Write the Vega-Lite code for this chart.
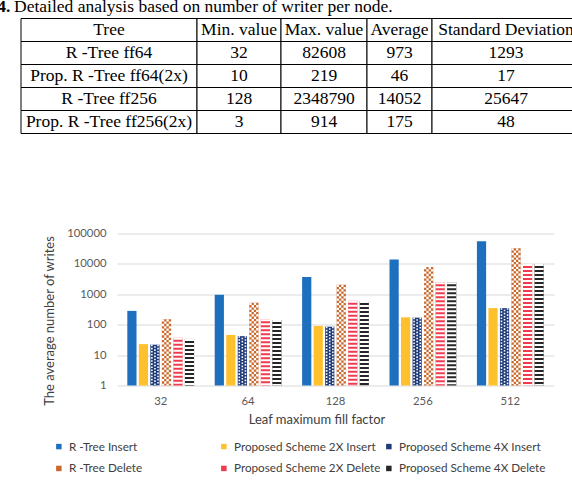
{
  "$schema": "https://vega.github.io/schema/vega-lite/v6.json",
  "padding": {"left": -49, "top": -4.5, "right": 0, "bottom": 0},
  "background": "white",
  "config": {"view": {"stroke": null}},
  "datasets": {
    "cells": [
      {"col": "Tree", "r": 0, "text": "Tree"},
      {"col": "Tree", "r": 1, "text": "R -Tree ff64"},
      {"col": "Tree", "r": 2, "text": "Prop. R -Tree ff64(2x)"},
      {"col": "Tree", "r": 3, "text": "R -Tree ff256"},
      {"col": "Tree", "r": 4, "text": "Prop. R -Tree ff256(2x)"},
      {"col": "Min", "r": 0, "text": "Min. value"},
      {"col": "Min", "r": 1, "text": "32"},
      {"col": "Min", "r": 2, "text": "10"},
      {"col": "Min", "r": 3, "text": "128"},
      {"col": "Min", "r": 4, "text": "3"},
      {"col": "Max", "r": 0, "text": "Max. value"},
      {"col": "Max", "r": 1, "text": "82608"},
      {"col": "Max", "r": 2, "text": "219"},
      {"col": "Max", "r": 3, "text": "2348790"},
      {"col": "Max", "r": 4, "text": "914"},
      {"col": "Avg", "r": 0, "text": "Average"},
      {"col": "Avg", "r": 1, "text": "973"},
      {"col": "Avg", "r": 2, "text": "46"},
      {"col": "Avg", "r": 3, "text": "14052"},
      {"col": "Avg", "r": 4, "text": "175"},
      {"col": "SD", "r": 0, "text": "Standard Deviation"},
      {"col": "SD", "r": 1, "text": "1293"},
      {"col": "SD", "r": 2, "text": "17"},
      {"col": "SD", "r": 3, "text": "25647"},
      {"col": "SD", "r": 4, "text": "48"}
    ],
    "caption": [
      {"r": -1, "label": "Table 4.", "rest": "Detailed analysis based on number of writer per node."}
    ],
    "writes": [
      {"factor": "32", "series": "R -Tree Insert", "writes": 285},
      {"factor": "32", "series": "Proposed Scheme 2X Insert", "writes": 23},
      {"factor": "32", "series": "Proposed Scheme 4X Insert", "writes": 22},
      {"factor": "32", "series": "R -Tree Delete", "writes": 151},
      {"factor": "32", "series": "Proposed Scheme 2X Delete", "writes": 37},
      {"factor": "32", "series": "Proposed Scheme 4X Delete", "writes": 34},
      {"factor": "64", "series": "R -Tree Insert", "writes": 973},
      {"factor": "64", "series": "Proposed Scheme 2X Insert", "writes": 46},
      {"factor": "64", "series": "Proposed Scheme 4X Insert", "writes": 42},
      {"factor": "64", "series": "R -Tree Delete", "writes": 525},
      {"factor": "64", "series": "Proposed Scheme 2X Delete", "writes": 151},
      {"factor": "64", "series": "Proposed Scheme 4X Delete", "writes": 143},
      {"factor": "128", "series": "R -Tree Insert", "writes": 3720},
      {"factor": "128", "series": "Proposed Scheme 2X Insert", "writes": 91},
      {"factor": "128", "series": "Proposed Scheme 4X Insert", "writes": 86},
      {"factor": "128", "series": "R -Tree Delete", "writes": 2080},
      {"factor": "128", "series": "Proposed Scheme 2X Delete", "writes": 610},
      {"factor": "128", "series": "Proposed Scheme 4X Delete", "writes": 600},
      {"factor": "256", "series": "R -Tree Insert", "writes": 14052},
      {"factor": "256", "series": "Proposed Scheme 2X Insert", "writes": 175},
      {"factor": "256", "series": "Proposed Scheme 4X Insert", "writes": 171},
      {"factor": "256", "series": "R -Tree Delete", "writes": 7950},
      {"factor": "256", "series": "Proposed Scheme 2X Delete", "writes": 2470},
      {"factor": "256", "series": "Proposed Scheme 4X Delete", "writes": 2470},
      {"factor": "512", "series": "R -Tree Insert", "writes": 55700},
      {"factor": "512", "series": "Proposed Scheme 2X Insert", "writes": 352},
      {"factor": "512", "series": "Proposed Scheme 4X Insert", "writes": 350},
      {"factor": "512", "series": "R -Tree Delete", "writes": 32700},
      {"factor": "512", "series": "Proposed Scheme 2X Delete", "writes": 10000},
      {"factor": "512", "series": "Proposed Scheme 4X Delete", "writes": 10000}
    ]
  },
  "resolve": {"scale": {"fill": "independent"}, "legend": {"fill": "independent"}},
  "spacing": 93,
  "vconcat": [
    {
      "spacing": 0,
      "bounds": "flush",
      "hconcat": [
        {
          "width": 176, "height": 138,
          "encoding": {"y": {"field": "r", "type": "ordinal", "scale": {"domain": [-1, 0, 1, 2, 3, 4], "paddingInner": 0, "paddingOuter": 0}, "axis": null}},
          "layer": [
            {"data": {"name": "cells"}, "transform": [{"filter": "datum.col === 'Tree'"}], "mark": {"type": "rect", "fill": "white", "stroke": "black", "strokeWidth": 1}},
            {"data": {"name": "cells"}, "transform": [{"filter": "datum.col === 'Tree'"}], "mark": {"type": "text", "font": "Liberation Serif", "fontSize": 17.5, "color": "black"}, "encoding": {"text": {"field": "text"}}},
            {"data": {"name": "caption"}, "mark": {"type": "text", "font": "Liberation Serif", "fontSize": 17.5, "fontWeight": "bold", "color": "black", "align": "right", "baseline": "alphabetic", "dx": -98.5, "dy": 5.3}, "encoding": {"text": {"field": "label"}}},
            {"data": {"name": "caption"}, "mark": {"type": "text", "font": "Liberation Serif", "fontSize": 17.5, "color": "black", "align": "left", "baseline": "alphabetic", "dx": -95, "dy": 5.3}, "encoding": {"text": {"field": "rest"}}}
          ]
        },
        {
          "width": 84, "height": 138,
          "data": {"name": "cells"},
          "transform": [{"filter": "datum.col === 'Min'"}],
          "encoding": {"y": {"field": "r", "type": "ordinal", "scale": {"domain": [-1, 0, 1, 2, 3, 4], "paddingInner": 0, "paddingOuter": 0}, "axis": null}},
          "layer": [
            {"mark": {"type": "rect", "fill": "white", "stroke": "black", "strokeWidth": 1}},
            {"mark": {"type": "text", "font": "Liberation Serif", "fontSize": 17.5, "color": "black"}, "encoding": {"text": {"field": "text"}}}
          ]
        },
        {
          "width": 86, "height": 138,
          "data": {"name": "cells"},
          "transform": [{"filter": "datum.col === 'Max'"}],
          "encoding": {"y": {"field": "r", "type": "ordinal", "scale": {"domain": [-1, 0, 1, 2, 3, 4], "paddingInner": 0, "paddingOuter": 0}, "axis": null}},
          "layer": [
            {"mark": {"type": "rect", "fill": "white", "stroke": "black", "strokeWidth": 1}},
            {"mark": {"type": "text", "font": "Liberation Serif", "fontSize": 17.5, "color": "black"}, "encoding": {"text": {"field": "text"}}}
          ]
        },
        {
          "width": 65, "height": 138,
          "data": {"name": "cells"},
          "transform": [{"filter": "datum.col === 'Avg'"}],
          "encoding": {"y": {"field": "r", "type": "ordinal", "scale": {"domain": [-1, 0, 1, 2, 3, 4], "paddingInner": 0, "paddingOuter": 0}, "axis": null}},
          "layer": [
            {"mark": {"type": "rect", "fill": "white", "stroke": "black", "strokeWidth": 1}},
            {"mark": {"type": "text", "font": "Liberation Serif", "fontSize": 17.5, "color": "black"}, "encoding": {"text": {"field": "text"}}}
          ]
        },
        {
          "width": 148, "height": 138,
          "data": {"name": "cells"},
          "transform": [{"filter": "datum.col === 'SD'"}],
          "encoding": {"y": {"field": "r", "type": "ordinal", "scale": {"domain": [-1, 0, 1, 2, 3, 4], "paddingInner": 0, "paddingOuter": 0}, "axis": null}},
          "layer": [
            {"mark": {"type": "rect", "fill": "white", "stroke": "black", "strokeWidth": 1}},
            {"mark": {"type": "text", "font": "Liberation Serif", "fontSize": 17.5, "color": "black"}, "encoding": {"text": {"field": "text"}}}
          ]
        }
      ]
    },
    {
      "spacing": 0,
      "bounds": "flush",
      "resolve": {"scale": {"fill": "independent"}, "legend": {"fill": "independent"}},
      "hconcat": [
        {"width": 96, "height": 1, "data": {"values": []}, "mark": "point"},
        {
          "width": 437, "height": 152,
          "data": {"name": "writes"},
          "encoding": {
            "x": {
              "field": "factor", "type": "ordinal", "sort": ["32", "64", "128", "256", "512"],
              "scale": {"paddingInner": 0.236, "paddingOuter": 0.118},
              "axis": {
                "labelAngle": 0, "domain": false, "ticks": false, "labelPadding": 10,
                "labelFont": "Lato", "labelFontSize": 11.3, "labelColor": "#595959",
                "title": "Leaf maximum fill factor", "titleFont": "Lato", "titleFontSize": 13,
                "titleFontWeight": "normal", "titleColor": "#404040",
                "titleX": 199.5, "titleY": 34, "titleBaseline": "middle", "titleAlign": "center"
              }
            },
            "y": {
              "field": "writes", "type": "quantitative",
              "scale": {"type": "log", "domain": [1, 100000], "nice": false},
              "axis": {
                "values": [1, 10, 100, 1000, 10000, 100000], "format": "d",
                "grid": true, "gridColor": "#d9d9d9", "gridWidth": 1,
                "domain": false, "ticks": false, "labelPadding": 11,
                "labelFont": "Lato", "labelFontSize": 11.3, "labelColor": "#595959",
                "title": "The average number of writes", "titleFont": "Lato", "titleFontSize": 13,
                "titleFontWeight": "normal", "titleColor": "#404040",
                "titleX": -68, "titleY": 87, "titleBaseline": "middle", "titleAlign": "center", "titleAngle": -90
              }
            }
          },
          "layer": [
            {
              "mark": {"type": "bar"},
              "encoding": {
                "xOffset": {
                  "field": "series", "type": "nominal",
                  "scale": {"domain": ["R -Tree Insert", "Proposed Scheme 2X Insert", "Proposed Scheme 4X Insert", "R -Tree Delete", "Proposed Scheme 2X Delete", "Proposed Scheme 4X Delete"], "paddingInner": 0.2, "paddingOuter": 0}
                },
                "y2": {"datum": 1},
                "fill": {
                  "field": "series", "type": "nominal",
                  "scale": {
                    "domain": ["R -Tree Insert", "Proposed Scheme 2X Insert", "Proposed Scheme 4X Insert", "R -Tree Delete", "Proposed Scheme 2X Delete", "Proposed Scheme 4X Delete"],
                    "range": ["#1f6fbf", "#ffc02e", "#1f3a78", "#c8682c", "#ef3a4f", "#262626"]
                  },
                  "legend": {
                    "orient": "none", "legendX": -64, "legendY": 207, "direction": "horizontal", "columns": 3,
                    "title": null, "symbolType": "square", "symbolSize": 30, "symbolStrokeWidth": 0,
                    "labelFont": "Lato", "labelFontSize": 11.7, "labelColor": "#404040", "labelOffset": 4.3,
                    "labelLimit": 300, "columnPadding": 2, "rowPadding": 9.1, "gridAlign": "all", "padding": 0
                  }
                }
              }
            },
            {"transform": [{"filter": "datum.series === 'Proposed Scheme 2X Delete' || datum.series === 'Proposed Scheme 4X Delete'"}],
             "mark": {"type": "rule", "stroke": "white", "strokeWidth": 9.2, "strokeDash": [2, 2]},
             "encoding": {
               "xOffset": {"field": "series", "type": "nominal"},
               "y2": {"datum": 1}
             }},
            {"transform": [{"filter": "datum.series === 'R -Tree Delete'"}],
             "mark": {"type": "rule", "stroke": "white", "strokeWidth": 2.3, "strokeDash": [2.3, 2.3], "xOffset": -3.45},
             "encoding": {"x": {"field": "factor", "type": "ordinal", "bandPosition": 0.58621}, "y2": {"datum": 1}}},
            {"transform": [{"filter": "datum.series === 'R -Tree Delete'"}],
             "mark": {"type": "rule", "stroke": "white", "strokeWidth": 2.3, "strokeDash": [2.3, 2.3], "strokeDashOffset": 2.3, "xOffset": -1.15},
             "encoding": {"x": {"field": "factor", "type": "ordinal", "bandPosition": 0.58621}, "y2": {"datum": 1}}},
            {"transform": [{"filter": "datum.series === 'R -Tree Delete'"}],
             "mark": {"type": "rule", "stroke": "white", "strokeWidth": 2.3, "strokeDash": [2.3, 2.3], "xOffset": 1.15},
             "encoding": {"x": {"field": "factor", "type": "ordinal", "bandPosition": 0.58621}, "y2": {"datum": 1}}},
            {"transform": [{"filter": "datum.series === 'R -Tree Delete'"}],
             "mark": {"type": "rule", "stroke": "white", "strokeWidth": 2.3, "strokeDash": [2.3, 2.3], "strokeDashOffset": 2.3, "xOffset": 3.45},
             "encoding": {"x": {"field": "factor", "type": "ordinal", "bandPosition": 0.58621}, "y2": {"datum": 1}}},
            {"transform": [{"filter": "datum.series === 'Proposed Scheme 4X Insert'"}],
             "mark": {"type": "rule", "stroke": "white", "strokeWidth": 1.6, "strokeDash": [1.6, 1.5], "xOffset": -3.07},
             "encoding": {"x": {"field": "factor", "type": "ordinal", "bandPosition": 0.41379}, "y2": {"datum": 1}}},
            {"transform": [{"filter": "datum.series === 'Proposed Scheme 4X Insert'"}],
             "mark": {"type": "rule", "stroke": "white", "strokeWidth": 1.6, "strokeDash": [1.6, 1.5], "strokeDashOffset": 1.55, "xOffset": 0},
             "encoding": {"x": {"field": "factor", "type": "ordinal", "bandPosition": 0.41379}, "y2": {"datum": 1}}},
            {"transform": [{"filter": "datum.series === 'Proposed Scheme 4X Insert'"}],
             "mark": {"type": "rule", "stroke": "white", "strokeWidth": 1.6, "strokeDash": [1.6, 1.5], "xOffset": 3.07},
             "encoding": {"x": {"field": "factor", "type": "ordinal", "bandPosition": 0.41379}, "y2": {"datum": 1}}}
          ]
        }
      ]
    }
  ]
}
